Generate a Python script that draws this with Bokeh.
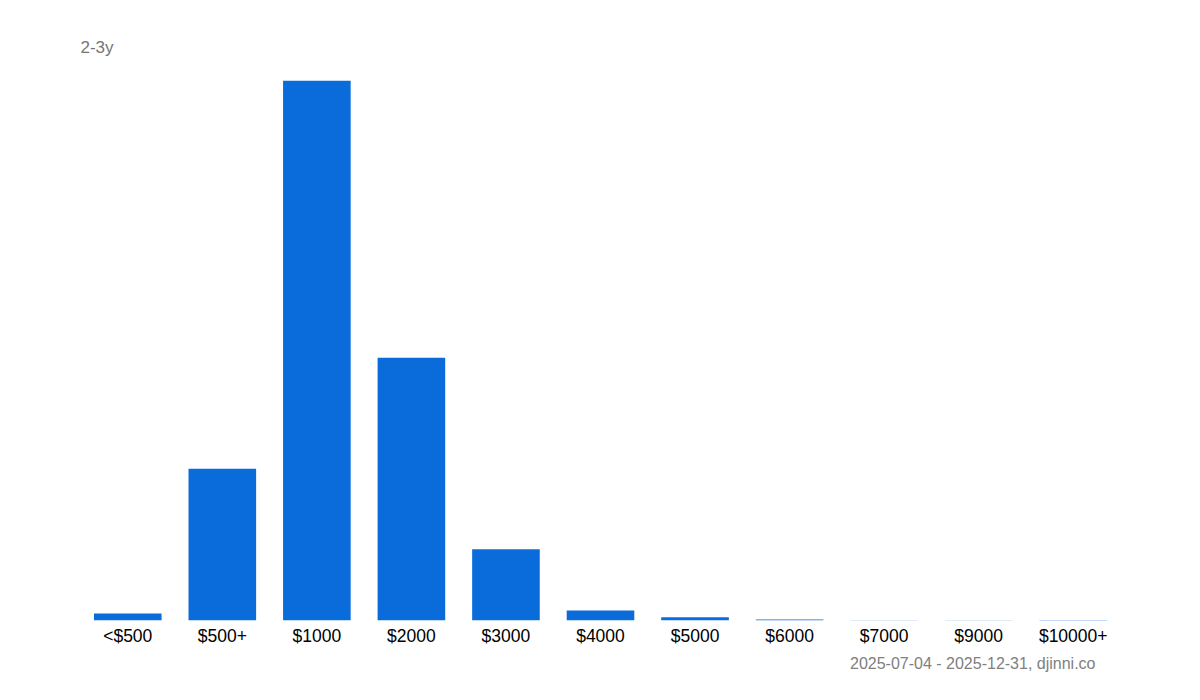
from bokeh.plotting import figure
from bokeh.models import Range1d, Title
from bokeh.embed import file_html
from bokeh.resources import INLINE

title_text = "2-3y"
footer_text = "2025-07-04 - 2025-12-31, djinni.co"
categories = ["<$500", "$500+", "$1000", "$2000", "$3000", "$4000",
              "$5000", "$6000", "$7000", "$9000", "$10000+"]
shares = [0.67, 14.5, 51.6, 25.1, 6.8, 0.96, 0.32, 0.09, 0.02, 0.012, 0.05]

BAR = "#0a6bdb"

p = figure(x_range=categories, y_range=Range1d(0, max(shares)),
           width=1200, height=700, output_backend="svg",
           toolbar_location=None, min_border_left=80, min_border_right=80,
           min_border_top=80, min_border_bottom=80)

p.vbar(x=categories, top=shares, width=0.715, color=BAR, line_color=None)

p.yaxis.visible = False
p.xgrid.visible = False
p.ygrid.visible = False
p.outline_line_color = None
p.xaxis.axis_line_color = None
p.xaxis.major_tick_line_color = None
p.xaxis.minor_tick_line_color = None
p.xaxis.major_tick_out = 0
p.xaxis.major_label_standoff = 5
p.xaxis.major_label_text_font = "Liberation Sans"
p.xaxis.major_label_text_font_size = "17.5px"
p.xaxis.major_label_text_color = "#000000"
p.x_range.range_padding = 0

p.title = Title(text=title_text, align="left", text_font="Liberation Sans",
                text_font_size="17px", text_color="#757575",
                text_font_style="normal", standoff=47)
p.add_layout(Title(text=footer_text, align="right", offset=25,
                   text_font="Liberation Sans", text_font_size="16px",
                   text_color="#808080", text_font_style="normal",
                   standoff=8), "below")

open("out.html", "w").write(file_html(p, INLINE))
